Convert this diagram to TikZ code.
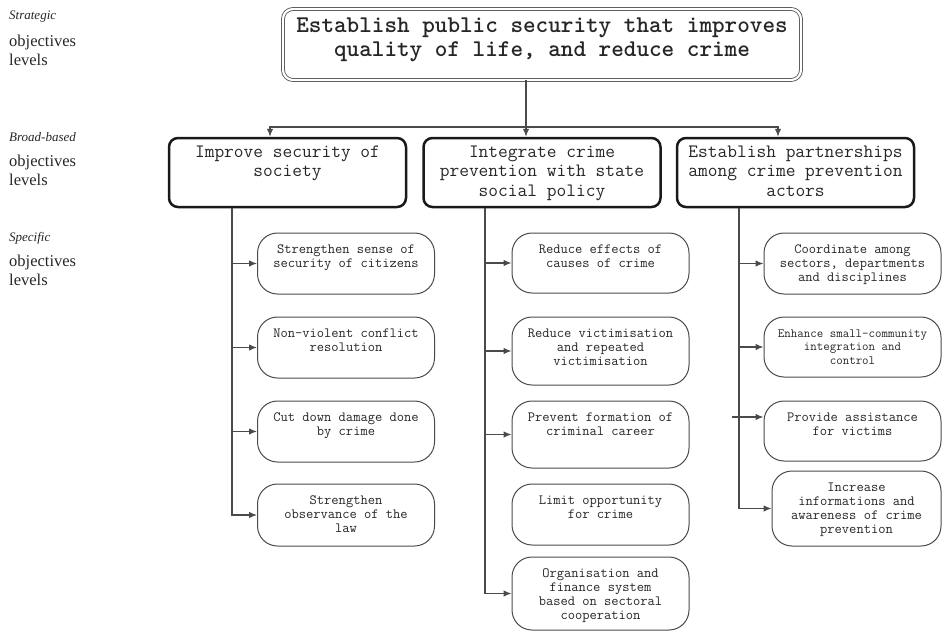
\documentclass[tikz,border=0pt]{standalone}
\usepackage{fontspec}
\setmainfont{Liberation Serif}
\usetikzlibrary{arrows.meta}
\definecolor{linegray}{HTML}{4A4A4A}
\definecolor{textgray}{HTML}{262626}
\tikzset{
  strategic/.style={draw=linegray, double, double distance=2.2pt, line width=0.8pt,
    rounded corners=10pt, inner sep=0pt, text=textgray,
    font=\fontsize{24}{24}\selectfont\ttfamily\bfseries},
  broad/.style={draw=black!90, line width=2.5pt, rounded corners=9pt, inner sep=0pt,
    text=textgray, font=\fontsize{18.9}{19.5}\selectfont\ttfamily},
  specific/.style={draw=linegray, line width=1pt, rounded corners=20pt, inner sep=0pt,
    text=textgray, font=\fontsize{14.1}{14.3}\selectfont\ttfamily},
  levelname/.style={anchor=west, inner sep=0pt, text=textgray,
    font=\fontsize{13}{15}\selectfont\itshape},
  level/.style={anchor=north west, inner sep=0pt, align=left, text=textgray,
    font=\fontsize{16.5}{19}\selectfont},
  link/.style={draw=linegray, line width=1.2pt}
}
\newcommand\boxtext[4]{\parbox[c][#1pt][t]{#2pt}{\centering\vspace*{#3pt}\strut#4\par}}
\newcommand\topbox[1]{\boxtext{71}{518}{6.7}{#1}}
\newcommand\broadbox[1]{\boxtext{69}{237}{5.8}{#1}}
\newcommand\specbox[3][177]{\boxtext{#2}{#1}{10}{#3}}

\begin{document}
\begin{tikzpicture}[x=1pt, y=-1pt, >={Latex[length=8pt,width=6.5pt]}]
    \useasboundingbox (0,0) rectangle (942,632);

    \node[levelname] (stratname) at (9,17) {Strategic};
    \node[level] (stratlevel) at (9,35) {objectives\\levels};
    \node[levelname] (broadname) at (9,137) {Broad-based};
    \node[level] (broadlevel) at (9,155) {objectives\\levels};
    \node[levelname] (specname) at (9,238) {Specific};
    \node[level] (speclevel) at (9,255) {objectives\\levels};

    \node[strategic] (T) at (542,44.5) {\topbox{Establish public security that improves\\quality of life, and reduce crime}};

    \node[broad] (B1) at (287.5,172.5) {\broadbox{Improve security of\\society}};
    \node[broad] (B2) at (542,172.5) {\broadbox{Integrate crime\\prevention with state\\social policy}};
    \node[broad] (B3) at (795.5,172.5) {\broadbox{Establish partnerships\\among crime prevention\\actors}};

    \node[specific] (S1) at (346,263.5) {\specbox{61}{Strengthen sense of\\security of citizens}};
    \node[specific] (S2) at (346,347.5) {\specbox{61}{Non-violent conflict\\resolution}};
    \node[specific] (S3) at (346,431.5) {\specbox{61}{Cut down damage done\\by crime}};
    \node[specific] (S4) at (346,515) {\specbox{62}{Strengthen\\observance of the\\law}};

    \node[specific] (M1) at (600.5,263) {\specbox{60}{Reduce effects of\\causes of crime}};
    \node[specific] (M2) at (600.5,351) {\specbox{68}{Reduce victimisation\\and repeated\\victimisation}};
    \node[specific] (M3) at (600.5,434.5) {\specbox{67}{Prevent formation of\\criminal career}};
    \node[specific] (M4) at (600.5,514.5) {\specbox{61}{Limit opportunity\\for crime}};
    \node[specific] (M5) at (600.5,593.5) {\specbox{73}{Organisation and\\finance system\\based on sectoral\\cooperation}};

    \node[specific] (R1) at (852.5,263.5) {\specbox{61}{Coordinate among\\sectors, departments\\and disciplines}};
    \node[specific] (R2) at (852.5,347) {\specbox{60}{\fontsize{12.6}{13.5}\selectfont Enhance small-community\\integration and\\control}};
    \node[specific] (R3) at (852.5,431) {\specbox{60}{Provide assistance\\for victims}};
    \node[specific] (R4) at (856.5,508.5) {\specbox[169]{75}{Increase\\informations and\\awareness of crime\\prevention}};

    \coordinate (split) at (526,127);
    \coordinate (in1) at (270,127);
    \coordinate (in3) at (778,127);
    \coordinate (L1) at (232,0);
    \coordinate (L2) at (485,0);
    \coordinate (L3) at (739,0);
    \coordinate (r3) at (732,417);

    \draw[link,->] (T.south -| split) -- (B2.north -| split);
    \draw[link,->] (split) -| (B1.north -| in1);
    \draw[link,->] (split) -| (B3.north -| in3);

    \draw[link,->] (B1.south -| L1) |- (S4.west);
    \draw[link,->] (S1.west -| L1) -- (S1.west);
    \draw[link,->] (S2.west -| L1) -- (S2.west);
    \draw[link,->] (S3.west -| L1) -- (S3.west);

    \draw[link,->] (B2.south -| L2) |- (M5.west);
    \draw[link,->] (M1.west -| L2) -- (M1.west);
    \draw[link,->] (M2.west -| L2) -- (M2.west);
    \draw[link,->] (M3.west -| L2) -- (M3.west);

    \draw[link,->] (B3.south -| L3) |- (R4.west);
    \draw[link,->] (R1.west -| L3) -- (R1.west);
    \draw[link,->] (R2.west -| L3) -- (R2.west);
    \draw[link,->] (r3) -- (r3 -| R3.west);
\end{tikzpicture}
\end{document}
